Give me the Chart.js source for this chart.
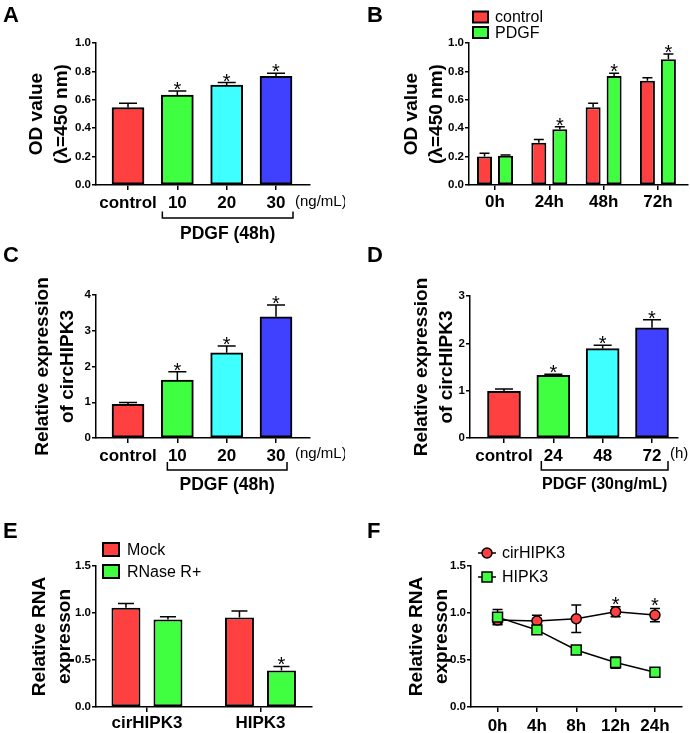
<!DOCTYPE html>
<html>
<head>
<meta charset="utf-8">
<script src="https://cdn.jsdelivr.net/npm/chart.js@4.4.1/dist/chart.umd.min.js"></script>
<style>
body { margin: 0; background: #fff; }
#fig { position: relative; width: 690px; height: 733px; overflow: hidden; background: #fff; }
#fig canvas { position: absolute; }
</style>
</head>
<body>
<div id="fig">
<canvas id="panelA" width="345" height="245" style="left:0;top:0"></canvas>
<canvas id="panelB" width="345" height="245" style="left:345px;top:0"></canvas>
<canvas id="panelC" width="345" height="250" style="left:0;top:245px"></canvas>
<canvas id="panelD" width="345" height="250" style="left:345px;top:245px"></canvas>
<canvas id="panelE" width="345" height="238" style="left:0;top:495px"></canvas>
<canvas id="panelF" width="345" height="238" style="left:345px;top:495px"></canvas>
</div>
<script>
// ---- data ----
// A: OD value vs PDGF dose (48h)
const doseLabels = ['control', '10', '20', '30'];
const odDose = [0.546, 0.634, 0.704, 0.765];
const odDoseErr = [0.030, 0.028, 0.017, 0.022];
const odDoseStar = [false, true, true, true];

// B: OD value over time
const timeLabels = ['0h', '24h', '48h', '72h'];
const odControl = [0.200, 0.298, 0.547, 0.735];
const odControlErr = [0.023, 0.022, 0.028, 0.021];
const odPdgf = [0.206, 0.392, 0.768, 0.885];
const odPdgfErr = [0.005, 0.018, 0.019, 0.038];
const odPdgfStar = [false, true, true, true];

// C: circHIPK3 vs dose
const circDose = [0.944, 1.617, 2.383, 3.390];
const circDoseErr = [0.046, 0.233, 0.187, 0.327];
const circDoseStar = [false, true, true, true];

// D: circHIPK3 vs time (30ng/mL)
const hourLabelsD = ['control', '24', '48', '72'];
const circTime = [0.986, 1.324, 1.887, 2.330];
const circTimeErr = [0.049, 0.021, 0.070, 0.170];
const circTimeStar = [false, true, true, true];

// E: RNase R
const rnaLabels = ['cirHIPK3', 'HIPK3'];
const mockVals = [1.055, 0.953];
const mockErr = [0.046, 0.067];
const rnaseVals = [0.932, 0.388];
const rnaseErr = [0.028, 0.043];
const rnaseStar = [false, true];

// F: time course
const hourLabels = ['0h', '4h', '8h', '12h', '24h'];
const cirVals = [0.925, 0.914, 0.939, 1.013, 0.978];
const cirErr = [0.040, 0.063, 0.146, 0.053, 0.070];
const cirStar = [false, false, false, true, true];
const hipkVals = [0.956, 0.820, 0.607, 0.473, 0.370];
const hipkErr = [0.080, 0.020, 0.025, 0.060, 0.043];

const FONT = '"Liberation Sans", Arial, sans-serif';
const RED = 'rgb(255, 64, 64)';
const GREEN = 'rgb(64, 255, 64)';
const CYAN = 'rgb(64, 255, 255)';
const BLUE = 'rgb(64, 64, 255)';

function pts(vals) {
	return vals.map(function(v, i) { return {x: i, y: v}; });
}

function yAxis(width, max, step, dec, title, titlePad) {
	return {
		min: 0,
		max: max,
		afterFit: function(s) { s.width = width; },
		ticks: {
			stepSize: step,
			color: '#000',
			padding: 1,
			font: {family: FONT, size: 11.5, weight: 'bold'},
			callback: function(v) { return v.toFixed(dec); }
		},
		grid: {display: true, drawOnChartArea: false, drawTicks: true, tickLength: 4, color: '#000', lineWidth: 1.5},
		border: {display: true, color: '#000', width: 1.5},
		title: {
			display: true,
			text: title,
			color: '#000',
			font: {family: FONT, size: 19, weight: 'bold', lineHeight: 1.28},
			padding: {top: titlePad, bottom: 0}
		}
	};
}

function xAxis(height, min, max, labels, pad) {
	return {
		type: 'linear',
		min: min,
		max: max,
		offset: false,
		afterFit: function(s) { s.height = height; },
		afterBuildTicks: function(s) {
			s.ticks = labels.map(function(l, i) { return {value: i}; });
		},
		ticks: {
			autoSkip: false,
			maxRotation: 0,
			color: '#000',
			padding: pad,
			font: {family: FONT, size: 17, weight: 'bold'},
			callback: function(v) { return labels[v]; }
		},
		grid: {display: true, offset: false, drawOnChartArea: false, drawTicks: true, tickLength: 5, color: '#000', lineWidth: 1.5},
		border: {display: true, color: '#000', width: 1.5}
	};
}

function drawErrors(chart, opt) {
	const ctx = chart.ctx;
	const ys = chart.scales.y;
	ctx.save();
	ctx.strokeStyle = '#000';
	ctx.lineWidth = 1.5;
	chart.data.datasets.forEach(function(ds, di) {
		const meta = chart.getDatasetMeta(di);
		meta.data.forEach(function(el, i) {
			const v = ds.data[i].y;
			const e = ds.errors[i];
			const x = el.x;
			const top = ys.getPixelForValue(v + e);
			const from = opt.errBoth ? ys.getPixelForValue(v - e) : el.y;
			const cap = opt.cap / 2;
			ctx.beginPath();
			ctx.moveTo(x, from);
			ctx.lineTo(x, top);
			ctx.moveTo(x - cap, top);
			ctx.lineTo(x + cap, top);
			if (opt.errBoth) {
				ctx.moveTo(x - cap, from);
				ctx.lineTo(x + cap, from);
			}
			ctx.stroke();
			if (ds.stars && ds.stars[i]) {
				ctx.fillStyle = '#000';
				ctx.font = '20px ' + FONT;
				ctx.textAlign = 'center';
				ctx.textBaseline = 'alphabetic';
				ctx.fillText('*', x, top + opt.starOff);
			}
		});
	});
	ctx.restore();
}

function drawDecor(chart, opt) {
	const ctx = chart.ctx;
	ctx.save();
	ctx.fillStyle = '#000';
	ctx.strokeStyle = '#000';

	// panel letter
	ctx.font = 'bold 22px ' + FONT;
	ctx.textAlign = 'left';
	ctx.textBaseline = 'alphabetic';
	ctx.fillText(opt.letter[0], opt.letter[1], opt.letter[2]);

	// legend
	if (opt.legend) {
		const lg = opt.legend;
		chart.data.datasets.forEach(function(ds, i) {
			const cy = lg.y[i];
			ctx.lineWidth = 2;
			if (lg.type === 'box') {
				ctx.fillStyle = ds.backgroundColor;
				ctx.fillRect(lg.x, cy - lg.h / 2, lg.w, lg.h);
				ctx.strokeRect(lg.x, cy - lg.h / 2, lg.w, lg.h);
			} else {
				ctx.lineWidth = 1.5;
				ctx.beginPath();
				ctx.moveTo(lg.x - 9, cy);
				ctx.lineTo(lg.x + 9, cy);
				ctx.stroke();
				ctx.fillStyle = ds.pointBackgroundColor;
				ctx.beginPath();
				if (ds.pointStyle === 'rect') {
					ctx.rect(lg.x - 5, cy - 5, 10, 10);
				} else {
					ctx.arc(lg.x, cy, 5, 0, Math.PI * 2);
				}
				ctx.fill();
				ctx.stroke();
			}
			ctx.fillStyle = '#000';
			ctx.font = '16px ' + FONT;
			ctx.textAlign = 'left';
			ctx.textBaseline = 'middle';
			ctx.fillText(ds.label, lg.tx, cy + 1);
		});
	}

	// bracket under the treated groups
	if (opt.bracket) {
		const b = opt.bracket;
		const xs = chart.scales.x;
		const x1 = xs.getPixelForValue(b.from) + b.dx1;
		const x2 = xs.getPixelForValue(b.to) + b.dx2;
		ctx.lineWidth = 1.5;
		ctx.beginPath();
		ctx.moveTo(x1, b.y - b.h);
		ctx.lineTo(x1, b.y);
		ctx.lineTo(x2, b.y);
		ctx.lineTo(x2, b.y - b.h);
		ctx.stroke();
		ctx.font = 'bold ' + b.size + 'px ' + FONT;
		ctx.textAlign = 'center';
		ctx.textBaseline = 'middle';
		ctx.fillText(b.text, (x1 + x2) / 2, b.ty);
	}

	if (opt.unit) {
		ctx.font = '15px ' + FONT;
		ctx.textAlign = 'left';
		ctx.textBaseline = 'middle';
		ctx.fillText(opt.unit[0], opt.unit[1], opt.unit[2]);
	}
	ctx.restore();
}

function extras(opt) {
	return {
		id: 'extras',
		beforeDatasetsDraw: function(chart) { if (opt.errBoth) drawErrors(chart, opt); },
		afterDatasetsDraw: function(chart) { if (!opt.errBoth) drawErrors(chart, opt); },
		afterDraw: function(chart) { drawDecor(chart, opt); }
	};
}

function baseOptions(pad) {
	return {
		responsive: false,
		animation: false,
		devicePixelRatio: 1,
		layout: {padding: pad},
		plugins: {legend: {display: false}, tooltip: {enabled: false}}
	};
}

// ---- A ----
var optA = baseOptions({top: 43, right: 35, left: 0, bottom: 0});
optA.scales = {
	x: xAxis(60, -0.649, 3.689, doseLabels, 3),
	y: yAxis(96, 1.0, 0.2, 1, ['OD value', '(\u03bb=450 nm)'], 25)
};
new Chart(document.getElementById('panelA'), {
	type: 'bar',
	data: {
		datasets: [{
			label: 'OD value',
			data: pts(odDose),
			errors: odDoseErr,
			stars: odDoseStar,
			backgroundColor: [RED, GREEN, CYAN, BLUE],
			borderColor: '#000',
			borderWidth: 2,
			borderSkipped: false,
			barThickness: 32
		}]
	},
	options: optA,
	plugins: [extras({
		letter: ['A', 3, 22], cap: 18, starOff: 5,
		bracket: {from: 1, to: 3, dx1: -15, dx2: 17, y: 218, h: 6.5, ty: 234, size: 17.5, text: 'PDGF (48h)'},
		unit: ['(ng/mL)', 295, 202]
	})]
});

// ---- B ----
var optB = baseOptions({top: 43, right: 2, left: 0, bottom: 0});
optB.scales = {
	x: xAxis(60, -0.479, 3.554, timeLabels, 2),
	y: yAxis(124, 1.0, 0.2, 1, ['OD value', '(\u03bb=450 nm)'], 55)
};
new Chart(document.getElementById('panelB'), {
	type: 'bar',
	data: {
		datasets: [{
			label: 'control',
			data: pts(odControl),
			errors: odControlErr,
			backgroundColor: RED,
			borderColor: '#000',
			borderWidth: 2,
			borderSkipped: false,
			categoryPercentage: 0.773,
			barPercentage: 0.714
		}, {
			label: 'PDGF',
			data: pts(odPdgf),
			errors: odPdgfErr,
			stars: odPdgfStar,
			backgroundColor: GREEN,
			borderColor: '#000',
			borderWidth: 2,
			borderSkipped: false,
			categoryPercentage: 0.773,
			barPercentage: 0.714
		}]
	},
	options: optB,
	plugins: [extras({
		letter: ['B', 22, 22], cap: 10, starOff: 5,
		legend: {type: 'box', x: 128, y: [17, 32.5], w: 15, h: 11, tx: 150}
	})]
});

// ---- C ----
var optC = baseOptions({top: 50, right: 35, left: 0, bottom: 0});
optC.scales = {
	x: xAxis(57, -0.649, 3.689, doseLabels, 3),
	y: yAxis(96, 4, 1, 0, ['Relative expression', 'of circHIPK3'], 31)
};
new Chart(document.getElementById('panelC'), {
	type: 'bar',
	data: {
		datasets: [{
			label: 'circHIPK3',
			data: pts(circDose),
			errors: circDoseErr,
			stars: circDoseStar,
			backgroundColor: [RED, GREEN, CYAN, BLUE],
			borderColor: '#000',
			borderWidth: 2,
			borderSkipped: false,
			barThickness: 32
		}]
	},
	options: optC,
	plugins: [extras({
		letter: ['C', 3, 17], cap: 18, starOff: 5,
		bracket: {from: 1, to: 3, dx1: -10, dx2: 11, y: 225, h: 8, ty: 240, size: 17.5, text: 'PDGF (48h)'},
		unit: ['(ng/mL)', 295, 209]
	})]
});

// ---- D ----
var optD = baseOptions({top: 51, right: 12, left: 0, bottom: 0});
optD.scales = {
	x: xAxis(57, -0.689, 3.527, hourLabelsD, 3),
	y: yAxis(125, 3, 1, 0, ['Relative expression', 'of circHIPK3'], 65)
};
new Chart(document.getElementById('panelD'), {
	type: 'bar',
	data: {
		datasets: [{
			label: 'circHIPK3',
			data: pts(circTime),
			errors: circTimeErr,
			stars: circTimeStar,
			backgroundColor: [RED, GREEN, CYAN, BLUE],
			borderColor: '#000',
			borderWidth: 2,
			borderSkipped: false,
			barThickness: 33
		}]
	},
	options: optD,
	plugins: [extras({
		letter: ['D', 22, 17], cap: 18, starOff: 5,
		bracket: {from: 1, to: 3, dx1: -12, dx2: 16, y: 225, h: 9, ty: 240, size: 16, text: 'PDGF (30ng/mL)'},
		unit: ['(h)', 325, 209]
	})]
});

// ---- E ----
var optE = baseOptions({top: 71, right: 33, left: 0, bottom: 0});
optE.scales = {
	x: xAxis(26, -0.449, 1.454, rnaLabels, 1),
	y: yAxis(96, 1.5, 0.5, 1, ['Relative RNA', 'expresson'], 28)
};
new Chart(document.getElementById('panelE'), {
	type: 'bar',
	data: {
		datasets: [{
			label: 'Mock',
			data: pts(mockVals),
			errors: mockErr,
			backgroundColor: RED,
			borderColor: '#000',
			borderWidth: 2,
			borderSkipped: false,
			categoryPercentage: 0.74,
			barPercentage: 0.69
		}, {
			label: 'RNase R+',
			data: pts(rnaseVals),
			errors: rnaseErr,
			stars: rnaseStar,
			backgroundColor: GREEN,
			borderColor: '#000',
			borderWidth: 2,
			borderSkipped: false,
			categoryPercentage: 0.74,
			barPercentage: 0.69
		}]
	},
	options: optE,
	plugins: [extras({
		letter: ['E', 3, 43], cap: 16, starOff: 5,
		legend: {type: 'box', x: 103, y: [54.5, 76.5], w: 16, h: 13, tx: 127}
	})]
});

// ---- F ----
var optF = baseOptions({top: 71, right: 5, left: 0, bottom: 0});
optF.scales = {
	x: xAxis(26, -0.675, 4.675, hourLabels, 4),
	y: yAxis(126, 1.5, 0.5, 1, ['Relative RNA', 'expresson'], 60)
};
new Chart(document.getElementById('panelF'), {
	type: 'line',
	data: {
		datasets: [{
			label: 'cirHIPK3',
			data: pts(cirVals),
			errors: cirErr,
			stars: cirStar,
			order: 1,
			borderColor: '#000',
			borderWidth: 1.5,
			pointStyle: 'circle',
			pointRadius: 5,
			pointBackgroundColor: RED,
			pointBorderColor: '#000',
			pointBorderWidth: 1.5
		}, {
			label: 'HIPK3',
			data: pts(hipkVals),
			errors: hipkErr,
			order: 0,
			borderColor: '#000',
			borderWidth: 1.5,
			pointStyle: 'rect',
			pointRadius: 7,
			pointBackgroundColor: GREEN,
			pointBorderColor: '#000',
			pointBorderWidth: 1.5
		}]
	},
	options: optF,
	plugins: [extras({
		letter: ['F', 22, 43], cap: 10, starOff: 4, errBoth: true,
		legend: {type: 'line', x: 142, y: [58, 82], tx: 157}
	})]
});
</script>
</body>
</html>
